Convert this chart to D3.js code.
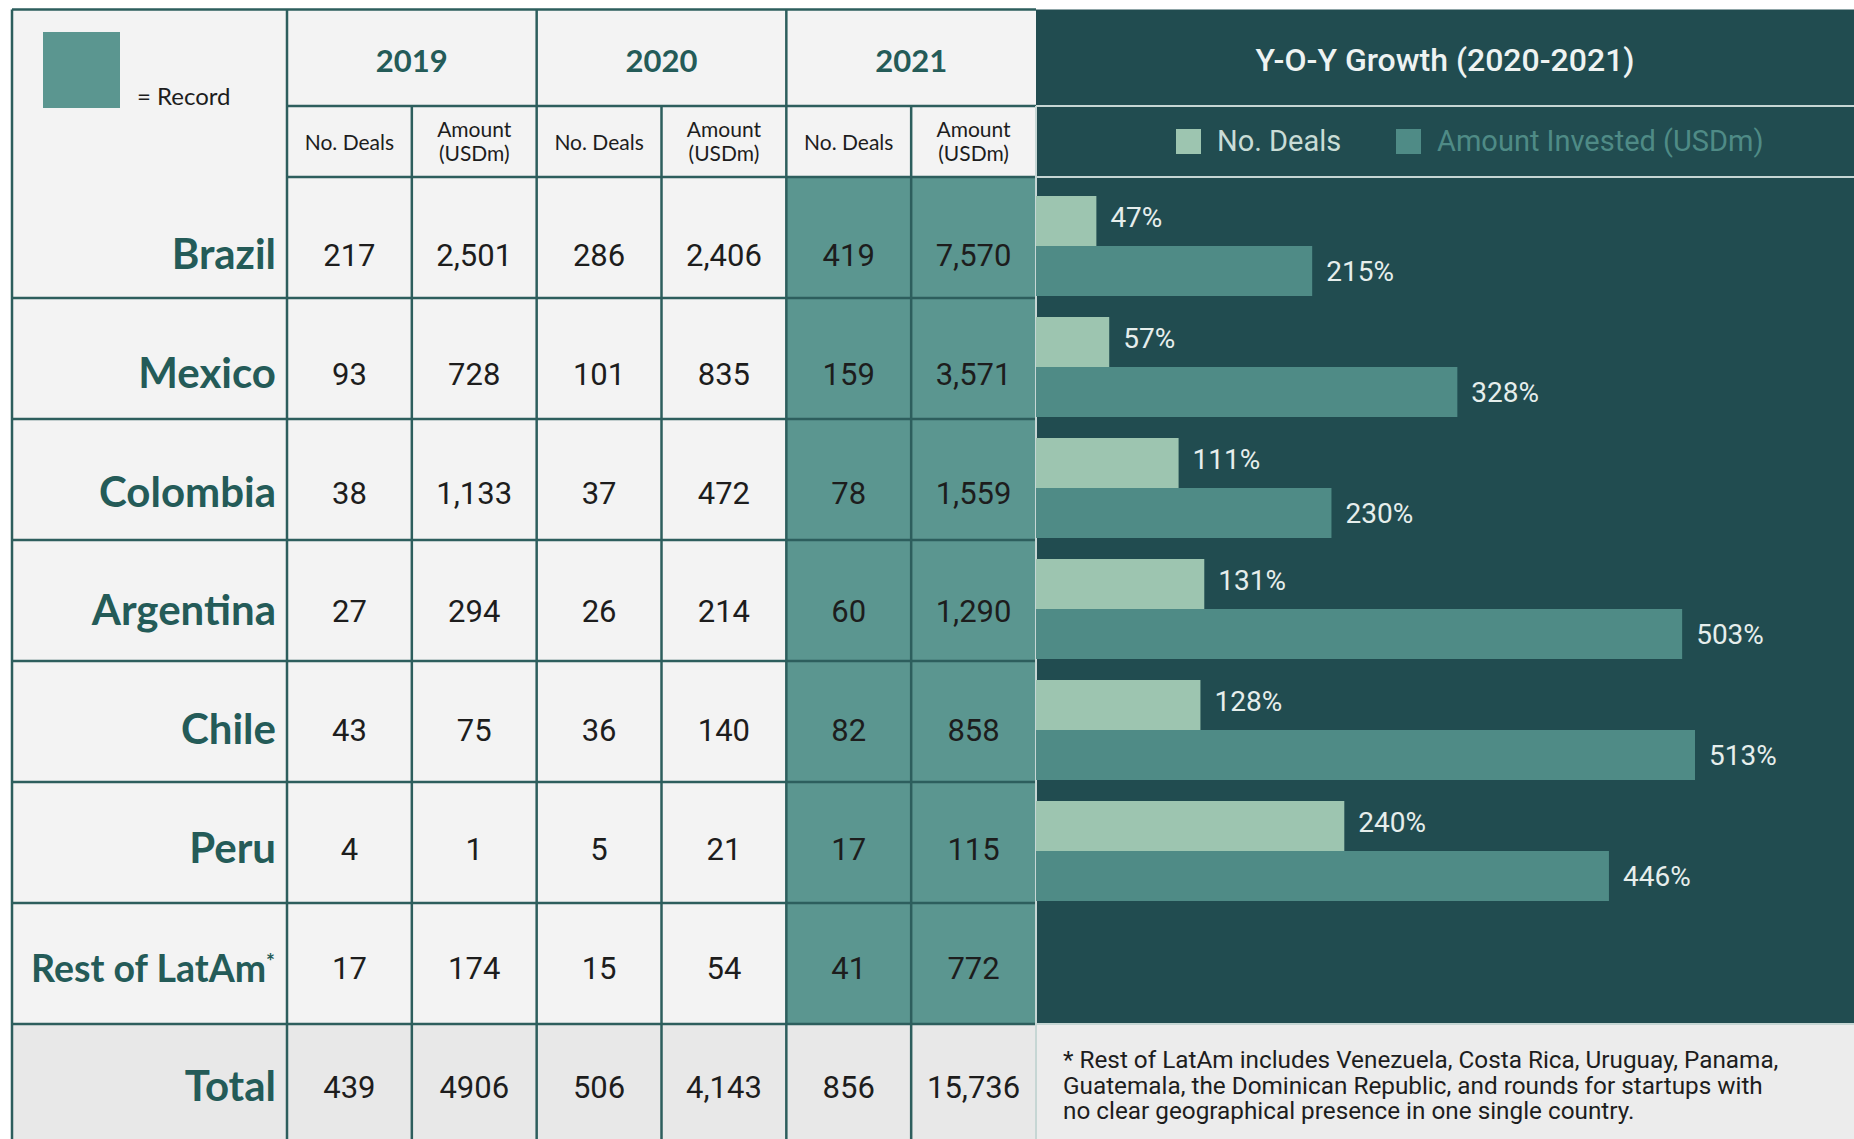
<!DOCTYPE html>
<html lang="en">
<head>
    <meta charset="UTF-8">
    <title>LatAm VC deals table</title>
    <script src="https://cdn.jsdelivr.net/npm/d3@7/dist/d3.min.js"></script>
    <style>
        body { margin: 0; background: #fff; }
    </style>
</head>
<body>
    <script>

        //data
        var countries = ['Brazil', 'Mexico', 'Colombia', 'Argentina', 'Chile', 'Peru', 'Rest of LatAm'];
        var years = ['2019', '2020', '2021'];
        var deals2019 = [217, 93, 38, 27, 43, 4, 17];
        var amount2019 = [2501, 728, 1133, 294, 75, 1, 174];
        var deals2020 = [286, 101, 37, 26, 36, 5, 15];
        var amount2020 = [2406, 835, 472, 214, 140, 21, 54];
        var deals2021 = [419, 159, 78, 60, 82, 17, 41];
        var amount2021 = [7570, 3571, 1559, 1290, 858, 115, 772];
        var totalLabels = ['439', '4906', '506', '4,143', '856', '15,736'];
        var growthCountries = ['Brazil', 'Mexico', 'Colombia', 'Argentina', 'Chile', 'Peru'];
        var growthDeals = [47, 57, 111, 131, 128, 240];
        var growthAmount = [215, 328, 230, 503, 513, 446];
        var legendLabels = ['No. Deals', 'Amount Invested (USDm)'];
        var footnote = [
            '* Rest of LatAm includes Venezuela, Costa Rica, Uruguay, Panama,',
            'Guatemala, the Dominican Republic, and rounds for startups with',
            'no clear geographical presence in one single country.'
        ];

        //width and height
        var w = 1854;
        var h = 1139;
        var leftX = 12, topY = 9.5, labelRight = 287, tableRight = 1036;

        var teal = '#245b58';
        var record = '#5b9690';
        var panel = '#214c50';
        var lightBar = '#9dc5b0';
        var darkBar = '#4f8b86';
        var cond = "Roboto, sans-serif";
        var lato = "Lato, 'Open Sans', sans-serif";
        var fmt = d3.format(',');

        var columns = [deals2019, amount2019, deals2020, amount2020, deals2021, amount2021];
        var rows = countries.concat(['Total']);

        //scales
        var x = d3.scaleBand().domain(d3.range(6)).range([labelRight, tableRight]);
        var yearX = d3.scaleBand().domain(years).range([labelRight, tableRight]);
        var y = d3.scaleBand().domain(rows).range([177, 177 + 121 * rows.length]);
        var subY = d3.scaleBand().domain(['deals', 'amount']).range([19, 119]);
        var barX = d3.scaleLinear().domain([0, 513]).range([tableRight, tableRight + 659]);

        // text sits a little higher in the lower rows
        function textY(d, i) {
            return y(d) + 89 - i * 2.2;
        }

        var svg = d3.select('body')
                    .append('svg')
                    .attr('width', w)
                    .attr('height', h);

        //table background
        svg.append('rect')
            .attr('x', leftX).attr('y', topY)
            .attr('width', tableRight - leftX).attr('height', h - topY)
            .attr('fill', '#f3f3f3');

        svg.append('rect')
            .attr('x', leftX).attr('y', y('Total'))
            .attr('width', tableRight - leftX).attr('height', y.bandwidth())
            .attr('fill', '#e8e8e8');

        //2021 record cells
        svg.selectAll('rect.record')
            .data(countries)
            .enter()
            .append('rect')
            .attr('class', 'record')
            .attr('x', x(4))
            .attr('y', function(d) { return y(d); })
            .attr('width', x.bandwidth() * 2)
            .attr('height', y.bandwidth())
            .attr('fill', record);

        //right panel
        svg.append('rect')
            .attr('x', tableRight).attr('y', topY)
            .attr('width', w - tableRight).attr('height', y('Total') - topY)
            .attr('fill', panel);
        svg.append('rect')
            .attr('x', tableRight).attr('y', y('Total'))
            .attr('width', w - tableRight).attr('height', h - y('Total'))
            .attr('fill', '#ececec');

        //grid lines
        var grid = svg.append('g')
            .attr('stroke', '#2d5e5d')
            .attr('stroke-width', 2.5);

        grid.append('line').attr('x1', leftX).attr('x2', tableRight).attr('y1', topY).attr('y2', topY);
        grid.append('line').attr('x1', leftX).attr('x2', leftX).attr('y1', topY).attr('y2', h);
        grid.append('line').attr('x1', labelRight).attr('x2', labelRight).attr('y1', topY).attr('y2', h);
        grid.append('line').attr('x1', labelRight).attr('x2', tableRight).attr('y1', 106).attr('y2', 106);
        grid.append('line').attr('x1', labelRight).attr('x2', tableRight).attr('y1', 177).attr('y2', 177);

        grid.selectAll('line.row')
            .data(rows.slice(1))
            .enter()
            .append('line')
            .attr('x1', leftX).attr('x2', tableRight)
            .attr('y1', function(d) { return y(d); })
            .attr('y2', function(d) { return y(d); });

        grid.selectAll('line.col')
            .data(d3.range(1, 6))
            .enter()
            .append('line')
            .attr('x1', function(d) { return x(d); })
            .attr('x2', function(d) { return x(d); })
            .attr('y1', function(d) { return d % 2 === 0 ? topY : 106; })
            .attr('y2', h);

        //light divider lines in panel
        var panelLines = svg.append('g')
            .attr('stroke', '#c6d6d4')
            .attr('stroke-width', 2);
        panelLines.append('line').attr('x1', tableRight).attr('x2', w).attr('y1', 106).attr('y2', 106);
        panelLines.append('line').attr('x1', tableRight).attr('x2', w).attr('y1', 177).attr('y2', 177);
        panelLines.append('line').attr('x1', tableRight).attr('x2', w).attr('y1', y('Total')).attr('y2', y('Total'));
        panelLines.append('line').attr('x1', tableRight).attr('x2', tableRight).attr('y1', 106).attr('y2', h);

        //record legend
        svg.append('rect')
            .attr('x', 43).attr('y', 32)
            .attr('width', 77).attr('height', 76)
            .attr('fill', record);
        svg.append('text')
            .attr('x', 137).attr('y', 105)
            .attr('font-family', lato)
            .attr('font-size', '24px')
            .attr('fill', '#1d1d1d')
            .text('= Record');

        //year headers
        svg.selectAll('text.year')
            .data(years)
            .enter()
            .append('text')
            .attr('x', function(d) { return yearX(d) + yearX.bandwidth() / 2; })
            .attr('y', 72)
            .attr('text-anchor', 'middle')
            .attr('font-family', lato)
            .attr('font-weight', 'bold')
            .attr('font-size', '31px')
            .attr('fill', teal)
            .text(function(d) { return d; });

        //sub headers
        var sub = svg.selectAll('g.sub')
            .data(d3.range(6))
            .enter()
            .append('g')
            .attr('font-family', lato)
            .attr('font-size', '21px')
            .attr('fill', '#1d1d1d')
            .attr('text-anchor', 'middle');

        sub.filter(function(d) { return d % 2 === 0; })
            .append('text')
            .attr('x', function(d) { return x(d) + x.bandwidth() / 2; })
            .attr('y', 150)
            .text('No. Deals');

        sub.filter(function(d) { return d % 2 === 1; })
            .append('text')
            .attr('x', function(d) { return x(d) + x.bandwidth() / 2; })
            .attr('y', 137)
            .text('Amount');

        sub.filter(function(d) { return d % 2 === 1; })
            .append('text')
            .attr('x', function(d) { return x(d) + x.bandwidth() / 2; })
            .attr('y', 161)
            .text('(USDm)');

        //country labels
        var labels = svg.selectAll('text.country')
            .data(rows)
            .enter()
            .append('text')
            .attr('x', labelRight - 11)
            .attr('y', function(d, i) { return textY(d, i) + 3; })
            .attr('text-anchor', 'end')
            .attr('font-family', lato)
            .attr('font-weight', 'bold')
            .attr('font-size', '42px')
            .attr('fill', teal)
            .text(function(d) { return d; });

        labels.filter(function(d) { return d === 'Rest of LatAm'; })
            .attr('x', labelRight - 12)
            .attr('font-size', '37.5px')
            .append('tspan')
            .attr('font-size', '21px')
            .attr('dy', -13)
            .text('*');

        //cell values
        countries.forEach(function(c, r) {
            svg.selectAll(null)
                .data(columns)
                .enter()
                .append('text')
                .attr('x', function(d, i) { return x(i) + x.bandwidth() / 2; })
                .attr('y', textY(c, r))
                .attr('text-anchor', 'middle')
                .attr('font-family', cond)
                .attr('font-size', '31px')
                .attr('fill', '#1d1d1d')
                .text(function(d) { return fmt(d[r]); });
        });

        svg.selectAll('text.total')
            .data(totalLabels)
            .enter()
            .append('text')
            .attr('x', function(d, i) { return x(i) + x.bandwidth() / 2; })
            .attr('y', textY('Total', 7))
            .attr('text-anchor', 'middle')
            .attr('font-family', cond)
            .attr('font-size', '31px')
            .attr('fill', '#1d1d1d')
            .text(function(d) { return d; });

        //panel title and legend
        svg.append('text')
            .attr('x', (tableRight + w) / 2)
            .attr('y', 71)
            .attr('text-anchor', 'middle')
            .attr('font-family', cond)
            .attr('font-weight', 500)
            .attr('font-size', '32px')
            .attr('fill', '#eef3f2')
            .text('Y-O-Y Growth (2020-2021)');

        var legendX = [1176, 1396];
        var legendColors = [lightBar, darkBar];
        var legendText = ['#c9dcd6', darkBar];
        var legend = svg.selectAll('g.legend')
            .data(legendLabels)
            .enter()
            .append('g')
            .attr('transform', function(d, i) { return 'translate(' + legendX[i] + ',129)'; });
        legend.append('rect')
            .attr('width', 25).attr('height', 25)
            .attr('fill', function(d, i) { return legendColors[i]; });
        legend.append('text')
            .attr('x', 41).attr('y', 22)
            .attr('font-family', cond)
            .attr('font-size', '29px')
            .attr('fill', function(d, i) { return legendText[i]; })
            .text(function(d) { return d; });

        //growth bars
        var bars = svg.selectAll('g.growth')
            .data(growthCountries)
            .enter()
            .append('g')
            .attr('transform', function(d) { return 'translate(0,' + y(d) + ')'; });

        bars.append('rect')
            .attr('x', barX(0))
            .attr('y', subY('deals'))
            .attr('width', function(d, i) { return barX(growthDeals[i]) - barX(0); })
            .attr('height', subY.bandwidth())
            .attr('fill', lightBar);

        bars.append('rect')
            .attr('x', barX(0))
            .attr('y', subY('amount'))
            .attr('width', function(d, i) { return barX(growthAmount[i]) - barX(0); })
            .attr('height', subY.bandwidth())
            .attr('fill', darkBar);

        bars.append('text')
            .attr('x', function(d, i) { return barX(growthDeals[i]) + 14; })
            .attr('y', subY('deals') + subY.bandwidth() / 2 + 6)
            .attr('font-family', cond)
            .attr('font-size', '28px')
            .attr('fill', '#e6eeec')
            .text(function(d, i) { return growthDeals[i] + '%'; });

        bars.append('text')
            .attr('x', function(d, i) { return barX(growthAmount[i]) + 14; })
            .attr('y', subY('amount') + subY.bandwidth() / 2 + 10)
            .attr('font-family', cond)
            .attr('font-size', '28px')
            .attr('fill', '#e6eeec')
            .text(function(d, i) { return growthAmount[i] + '%'; });

        //footnote
        svg.selectAll('text.note')
            .data(footnote)
            .enter()
            .append('text')
            .attr('x', 1063)
            .attr('y', function(d, i) { return 1068 + i * 25.5; })
            .attr('font-family', cond)
            .attr('font-size', '24.3px')
            .attr('fill', '#1d1d1d')
            .text(function(d) { return d; });

    </script>
</body>
</html>
